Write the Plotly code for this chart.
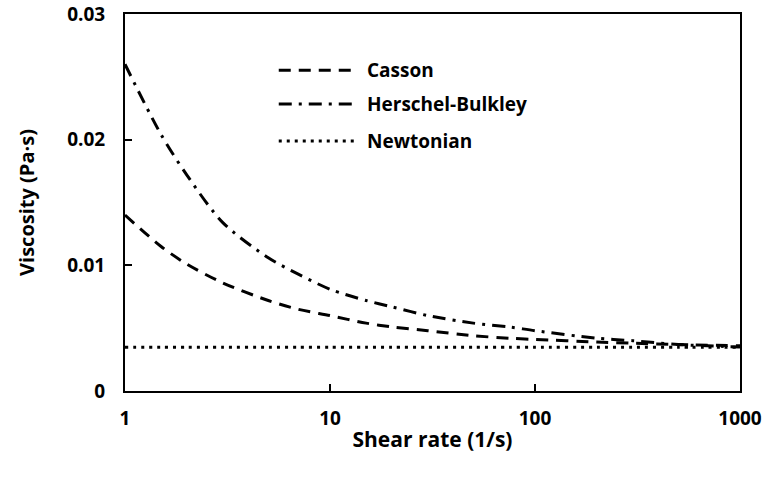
import plotly.graph_objects as go

# Shear rate sample points (1/s)
shear_rate = [1, 1.5, 2, 3, 5, 7, 10, 15, 20, 30, 50, 75, 100, 200, 300, 500, 1000]

# Apparent viscosity (Pa·s) for each rheological model
casson = [0.0140, 0.0115, 0.0101, 0.0086, 0.0072, 0.0065, 0.0060, 0.0054, 0.0051,
          0.0048, 0.0044, 0.0042, 0.0041, 0.0039, 0.0038, 0.0037, 0.0036]
herschel_bulkley = [0.0260, 0.0204, 0.0172, 0.0134, 0.0106, 0.0093, 0.0081, 0.0072, 0.0067,
                    0.0060, 0.0054, 0.0051, 0.0048, 0.0042, 0.0040, 0.0037, 0.0035]
newtonian = [0.00348] * len(shear_rate)

series_names = ["Casson", "Herschel-Bulkley", "Newtonian"]
x_ticks = [1, 10, 100, 1000]
x_tick_text = ["1", "10", "100", "1000"]
y_ticks = [0, 0.01, 0.02, 0.03]
y_tick_text = ["0", "0.01", "0.02", "0.03"]

FONT = "Open Sans"
dash_styles = ["12px,8px", "13px,7px,3px,7px", "3px,5px"]
series = [casson, herschel_bulkley, newtonian]

fig = go.Figure()
for name, ys, dash in zip(series_names, series, dash_styles):
    fig.add_trace(go.Scatter(
        x=shear_rate, y=ys, mode="lines", name=name,
        line=dict(color="black", width=3, dash=dash, shape="spline", smoothing=0.8),
        showlegend=False,
    ))

# Hand-placed legend: line samples plus labels
legend_y = [0.851, 0.761, 0.663]
for name, dash, ly in zip(series_names, dash_styles, legend_y):
    fig.add_shape(type="line", xref="paper", yref="paper",
                  x0=0.25, x1=0.375, y0=ly, y1=ly,
                  line=dict(color="black", width=3, dash=dash))
    fig.add_annotation(xref="paper", yref="paper", x=0.39, y=ly, text=name,
                       showarrow=False, xanchor="left", yanchor="middle",
                       font=dict(family=FONT, size=19, color="black", weight="bold"))

fig.update_xaxes(
    type="log", range=[0, 3], tickvals=x_ticks, ticktext=x_tick_text,
    ticks="inside", ticklen=7, tickwidth=2, tickcolor="black",
    showline=True, linewidth=2, linecolor="black", mirror=True,
    showgrid=False, zeroline=False, ticklabelstandoff=9, automargin=False,
    tickfont=dict(family=FONT, size=19, color="black", weight="bold"),
    title=dict(text="Shear rate (1/s)", standoff=3,
               font=dict(family=FONT, size=21, color="black", weight="bold")),
)
fig.update_yaxes(
    range=[0, 0.03], tickvals=y_ticks, ticktext=y_tick_text,
    ticks="inside", ticklen=7, tickwidth=2, tickcolor="black",
    showline=True, linewidth=2, linecolor="black", mirror=True,
    showgrid=False, zeroline=False, ticklabelstandoff=14, automargin=False,
    tickfont=dict(family=FONT, size=19, color="black", weight="bold"),
    title=dict(text="Viscosity (Pa·s)", standoff=27,
               font=dict(family=FONT, size=20, color="black", weight="bold")),
)

fig.update_layout(
    width=771, height=479,
    margin=dict(l=125, r=31, t=14, b=88),
    paper_bgcolor="white", plot_bgcolor="white",
)

fig.write_html("out.html")
